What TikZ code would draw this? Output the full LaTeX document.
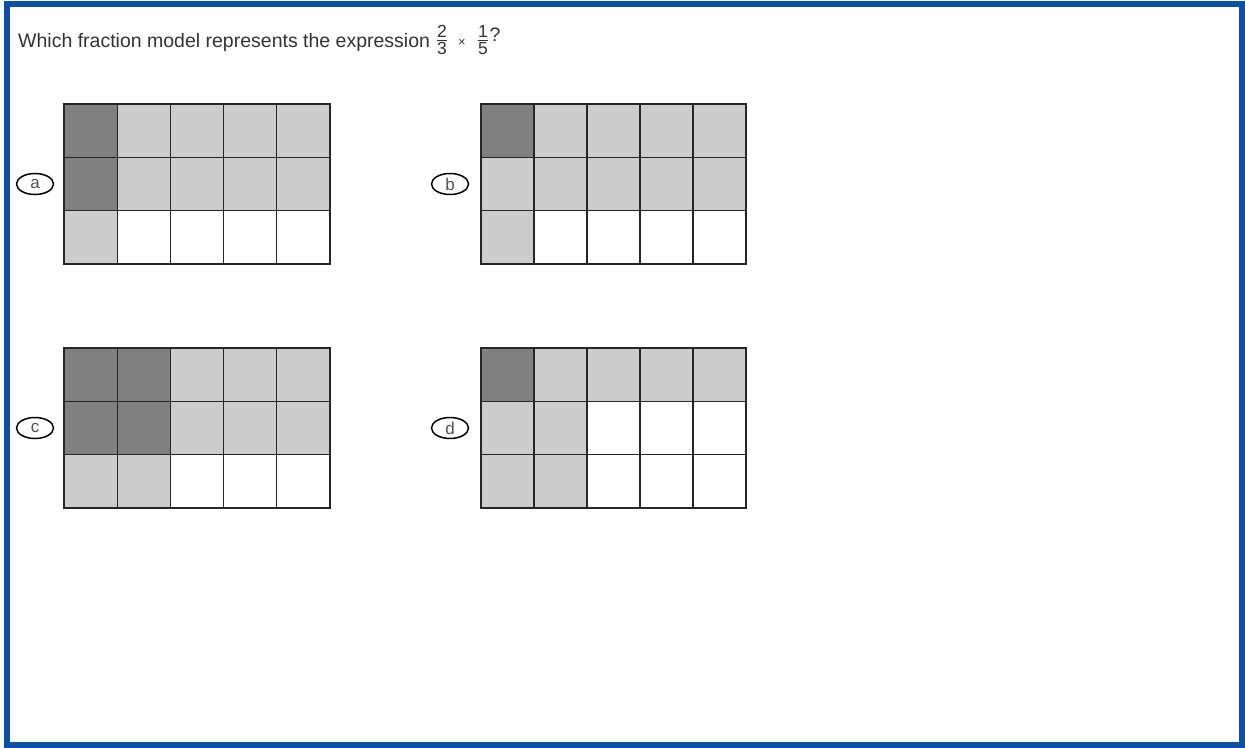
\documentclass[tikz,border=0pt]{standalone}
\usepackage{fontspec}
\setmainfont{Liberation Sans}
\usetikzlibrary{shapes.geometric, positioning}
\definecolor{frameBlue}{HTML}{0B4FA6}
\definecolor{cellDark}{HTML}{808080}
\definecolor{cellLight}{HTML}{CCCCCC}
\definecolor{cellWhite}{HTML}{FFFFFF}
\definecolor{inkGray}{HTML}{333333}

\begin{document}
\begin{tikzpicture}[
    x=1pt, y=-1pt,
    frame/.style={draw=frameBlue, line width=6pt},
    cell/.style={draw=black!85, line width=1.1pt},
    choice/.style={ellipse, draw=black, line width=1.5pt, minimum width=37pt, minimum height=21pt,
                   inner sep=0pt, font=\fontsize{17}{19}\selectfont, text=inkGray!85},
    question/.style={font=\fontsize{19.5}{23}\selectfont, text=inkGray, inner sep=0pt},
    fracpart/.style={font=\fontsize{17.5}{18}\selectfont, text=inkGray, inner sep=0pt}
  ]
    \useasboundingbox (0,0) rectangle (1245,747);
    \fill[white] (0,0) rectangle (1245,747);
    \draw[frame] (6.5,4) rectangle (1242,744.5);

    % question
    \node[question, anchor=base west] (ask) at (18,47) {Which fraction model represents the expression};
    \node[fracpart] (twothirds) at (442,42.5) {\begin{tabular}{@{}c@{}}2\\[-3pt]\hline\rule{0pt}{14pt}3\end{tabular}};
    \node[fracpart, font=\fontsize{13}{14}\selectfont] (times) at (462,43) {×};
    \node[fracpart] (onefifth) at (483,42.5) {\begin{tabular}{@{}c@{}}1\\[-3pt]\hline\rule{0pt}{14pt}5\end{tabular}};
    \node[question, anchor=base west] (qmark) at (489.5,41) {?};

    % model a
    \foreach \c [count=\i from 0] in {cellDark,cellLight,cellLight,cellLight,cellLight,
                                      cellDark,cellLight,cellLight,cellLight,cellLight,
                                      cellLight,cellWhite,cellWhite,cellWhite,cellWhite}
      \filldraw[cell, fill=\c] ({64+53.2*mod(\i,5)},{104+53.33*int(\i/5)}) rectangle +(53.2,53.33);
    \node[choice] (a) at (35,184) {a};

    % model b
    \foreach \c [count=\i from 0] in {cellDark,cellLight,cellLight,cellLight,cellLight,
                                      cellLight,cellLight,cellLight,cellLight,cellLight,
                                      cellLight,cellWhite,cellWhite,cellWhite,cellWhite}
      \filldraw[cell, fill=\c] ({481+53*mod(\i,5)},{104+53.33*int(\i/5)}) rectangle +(53,53.33);
    \node[choice] (b) at (450,184) {b};

    % model c
    \foreach \c [count=\i from 0] in {cellDark,cellDark,cellLight,cellLight,cellLight,
                                      cellDark,cellDark,cellLight,cellLight,cellLight,
                                      cellLight,cellLight,cellWhite,cellWhite,cellWhite}
      \filldraw[cell, fill=\c] ({64+53.2*mod(\i,5)},{348+53.33*int(\i/5)}) rectangle +(53.2,53.33);
    \node[choice] (c) at (35,428) {c};

    % model d
    \foreach \c [count=\i from 0] in {cellDark,cellLight,cellLight,cellLight,cellLight,
                                      cellLight,cellLight,cellWhite,cellWhite,cellWhite,
                                      cellLight,cellLight,cellWhite,cellWhite,cellWhite}
      \filldraw[cell, fill=\c] ({481+53*mod(\i,5)},{348+53.33*int(\i/5)}) rectangle +(53,53.33);
    \node[choice] (d) at (450,428) {d};
\end{tikzpicture}
\end{document}
